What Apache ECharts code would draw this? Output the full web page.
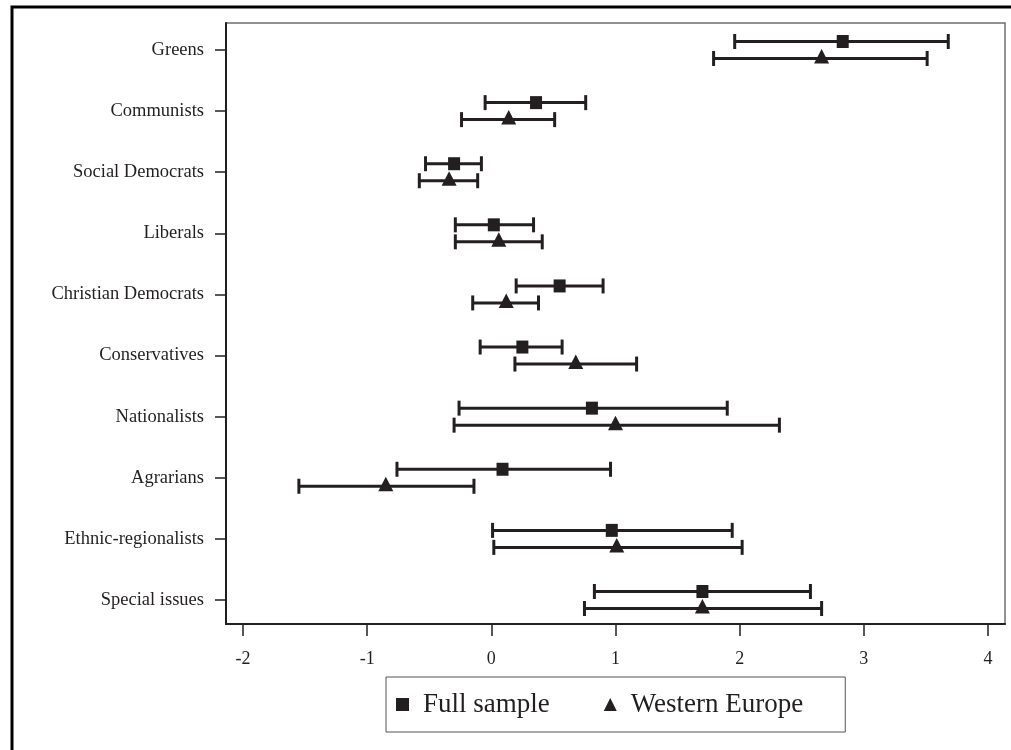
<!DOCTYPE html>
<html>
<head>
<meta charset="utf-8">
<script src="https://cdn.jsdelivr.net/npm/echarts@6/dist/echarts.min.js"></script>
<style>
  html, body { margin: 0; padding: 0; background: #fff; }
  #chart { width: 1011px; height: 750px; }
</style>
</head>
<body>
<div id="chart"></div>
<script>
// party families, top to bottom
var categories = ['Greens', 'Communists', 'Social Democrats', 'Liberals', 'Christian Democrats',
    'Conservatives', 'Nationalists', 'Agrarians', 'Ethnic-regionalists', 'Special issues'];

// full sample: estimate and interval ends
var fullEst = [2.83, 0.36, -0.30, 0.02, 0.55, 0.25, 0.81, 0.09, 0.97, 1.70];
var fullLo  = [1.96, -0.05, -0.53, -0.29, 0.20, -0.09, -0.26, -0.76, 0.01, 0.83];
var fullHi  = [3.68, 0.76, -0.08, 0.34, 0.90, 0.57, 1.90, 0.96, 1.94, 2.57];

// western europe
var westEst = [2.66, 0.14, -0.34, 0.06, 0.12, 0.68, 1.00, -0.85, 1.01, 1.70];
var westLo  = [1.79, -0.24, -0.58, -0.29, -0.15, 0.19, -0.30, -1.55, 0.02, 0.75];
var westHi  = [3.51, 0.51, -0.11, 0.41, 0.38, 1.17, 2.32, -0.14, 2.02, 2.66];

var xTicks = [-2, -1, 0, 1, 2, 3, 4];
var yTicks = [0, 1, 2, 3, 4, 5, 6, 7, 8, 9];

var ink = '#231f20';
var serif = 'Liberation Serif';

function rows(lo, est, hi) {
    return categories.map(function (c, i) { return [lo[i], est[i], hi[i], i]; });
}

function errBar(offset, marker) {
    return function (params, api) {
        var a = api.coord([api.value(0), api.value(3)]);
        var m = api.coord([api.value(1), api.value(3)]);
        var b = api.coord([api.value(2), api.value(3)]);
        var y = a[1] + offset;
        var st = { stroke: ink, lineWidth: 3 };
        var kids = [
            { type: 'line', shape: { x1: a[0], y1: y, x2: b[0], y2: y }, style: st },
            { type: 'line', shape: { x1: a[0], y1: y - 7.5, x2: a[0], y2: y + 7.5 }, style: st },
            { type: 'line', shape: { x1: b[0], y1: y - 7.5, x2: b[0], y2: y + 7.5 }, style: st }
        ];
        if (marker === 'square') {
            kids.push({ type: 'rect', shape: { x: m[0] - 6, y: y - 6.5, width: 12, height: 13 }, style: { fill: ink } });
        } else {
            kids.push({ type: 'polygon', shape: { points: [[m[0], y - 9.5], [m[0] - 7.5, y + 5], [m[0] + 7.5, y + 5]] }, style: { fill: ink } });
        }
        return { type: 'group', children: kids };
    };
}

var myChart = echarts.init(document.getElementById('chart'));

var option = {
    animation: false,
    graphic: [{
        type: 'rect',
        shape: { x: 12, y: 7, width: 1100, height: 800 },
        style: { fill: 'none', stroke: '#000', lineWidth: 3 },
        silent: true
    }],
    grid: {
        left: 226, right: 6, top: 23, bottom: 126,
        show: true, borderColor: '#6d6e71', borderWidth: 1.5
    },
    legend: {
        left: 386, top: 677,
        orient: 'horizontal',
        padding: [14, 42, 14, 10],
        itemGap: 54,
        itemWidth: 13, itemHeight: 13,
        borderColor: '#555', borderWidth: 1,
        textStyle: { fontFamily: serif, fontSize: 27, color: ink, padding: [0, 0, 0, 9] },
        data: [{ name: 'Full sample', icon: 'rect' }, { name: 'Western Europe', icon: 'triangle' }]
    },
    xAxis: {
        type: 'value',
        min: -2.137, max: 4.137,
        axisLine: { show: true, onZero: false, lineStyle: { color: ink, width: 2 } },
        axisTick: { show: true, length: 12, customValues: xTicks, lineStyle: { color: ink, width: 1.5 } },
        axisLabel: { customValues: xTicks, margin: 26, fontFamily: serif, fontSize: 18, color: ink },
        splitLine: { show: false }
    },
    yAxis: {
        type: 'value',
        inverse: true,
        min: -0.442, max: 9.393,
        axisLine: { show: true, onZero: false, lineStyle: { color: ink, width: 2 } },
        axisTick: { show: true, length: 11, customValues: yTicks, lineStyle: { color: ink, width: 1.5 } },
        axisLabel: {
            customValues: yTicks,
            margin: 22,
            fontFamily: serif, fontSize: 18.5, color: ink,
            formatter: function (v) { return categories[Math.round(v)]; }
        },
        splitLine: { show: false }
    },
    series: [
        {
            name: 'Full sample',
            type: 'custom',
            itemStyle: { color: ink },
            renderItem: errBar(-8.5, 'square'),
            encode: { x: [0, 1, 2], y: 3 },
            data: rows(fullLo, fullEst, fullHi)
        },
        {
            name: 'Western Europe',
            type: 'custom',
            itemStyle: { color: ink },
            renderItem: errBar(8.5, 'triangle'),
            encode: { x: [0, 1, 2], y: 3 },
            data: rows(westLo, westEst, westHi)
        }
    ]
};
myChart.setOption(option);
</script>
</body>
</html>
